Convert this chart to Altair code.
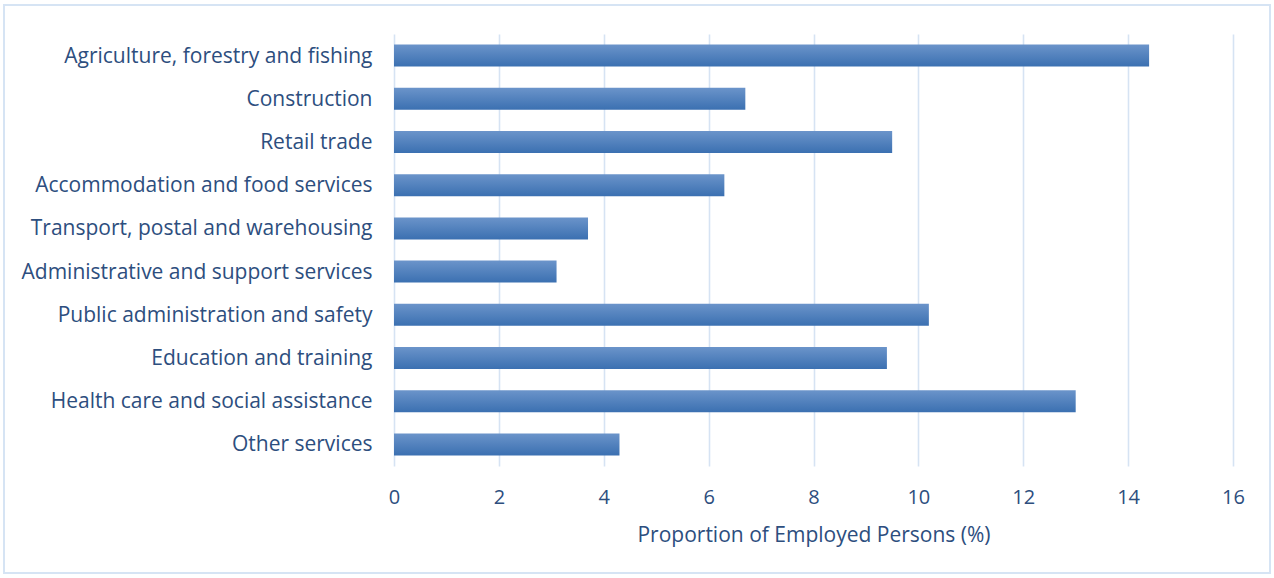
import altair as alt
import pandas as pd

industries = [
    "Agriculture, forestry and fishing",
    "Construction",
    "Retail trade",
    "Accommodation and food services",
    "Transport, postal and warehousing",
    "Administrative and support services",
    "Public administration and safety",
    "Education and training",
    "Health care and social assistance",
    "Other services",
]
values = [14.4, 6.7, 9.5, 6.3, 3.7, 3.1, 10.2, 9.4, 13.0, 4.3]

df = pd.DataFrame({"industry": industries, "value": values})

W, H = 839, 432
PAD_L, PAD_T = 394, 34
TOTAL_W, TOTAL_H = 1274, 578
text_color = "#2d4e7e"
font = "Open Sans"

grad = alt.Gradient(
    gradient="linear",
    stops=[alt.GradientStop(color="#6b94ca", offset=0),
           alt.GradientStop(color="#3b70b1", offset=1)],
    x1=0, x2=0, y1=0, y2=1,
)

bars = alt.Chart(df).mark_bar(fill=grad).encode(
    x=alt.X("value:Q",
            scale=alt.Scale(domain=[0, 16], nice=False),
            axis=alt.Axis(values=list(range(0, 17, 2)),
                          title="Proportion of Employed Persons (%)",
                          titlePadding=17, labelPadding=21, labelFlush=False,
                          labelFontSize=20,
                          grid=True, gridColor="#d6e3f3", gridWidth=1.6,
                          ticks=False, domain=False)),
    y=alt.Y("industry:N", sort=industries,
            scale=alt.Scale(paddingInner=0.49, paddingOuter=0.245),
            axis=alt.Axis(title=None, labelPadding=22, labelOffset=1, ticks=False,
                          domain=False, labelLimit=400)),
)

border = alt.Chart(df).mark_rect(fill=None, stroke="#d6e3f3", strokeWidth=1.5).encode(
    x=alt.value(4 - PAD_L), x2=alt.value(1270 - PAD_L),
    y=alt.value(5 - PAD_T), y2=alt.value(573 - PAD_T),
)

chart = alt.layer(border, bars).properties(
    width=W, height=H,
    autosize=alt.AutoSizeParams(type="none"),
    padding={"left": PAD_L, "top": PAD_T,
             "right": TOTAL_W - PAD_L - W, "bottom": TOTAL_H - PAD_T - H},
    background="white",
).configure_view(stroke=None).configure_axis(
    labelFont=font, titleFont=font, labelColor=text_color, titleColor=text_color,
    labelFontSize=21, titleFontSize=21, titleFontWeight="normal",
)

chart.save("out.html", embed_options={"renderer": "svg", "actions": False})
